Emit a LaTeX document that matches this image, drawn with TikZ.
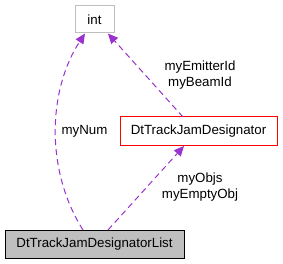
\documentclass[tikz,border=0pt]{standalone}
\usepackage{fontspec}
\setmainfont{Liberation Sans}
\usetikzlibrary{arrows.meta}
\definecolor{edgepurple}{HTML}{9A32CD}
\definecolor{boxgray}{HTML}{BFBFBF}
\begin{document}
\begin{tikzpicture}[x=1pt,y=-1pt,
  every node/.style={font=\fontsize{13.3pt}{16pt}\selectfont, inner sep=0pt},
  classbox/.style={draw, line width=1pt, minimum height=27pt, anchor=center},
  usage/.style={draw=edgepurple, line width=1pt, dash pattern=on 6pt off 4pt,
    -{Triangle[length=10pt,width=9pt,fill=edgepurple]}},
  elabel/.style={align=center}]
\useasboundingbox (0,0) rectangle (283,264);
\node[classbox, draw=boxgray, fill=white, minimum width=39pt] (int) at (94.5,19.5) {int};
\node[classbox, draw=red, fill=white, minimum width=157pt, minimum height=29pt] (dtjd) at (198.5,131.5) {DtTrackJamDesignator};
\node[classbox, draw=black, fill=boxgray, minimum width=179pt, minimum height=28pt] (list) at (94.5,244) {DtTrackJamDesignatorList};
\coordinate (listA) at (83,230);
\coordinate (listB) at (108,230);
\coordinate (intA) at (85,33.5);
\coordinate (intB) at (108,33.5);
\coordinate (dtjdT) at (183,117);
\coordinate (dtjdB) at (184,146);
\draw[usage] (listA) .. controls (45,170) and (48,90) .. (intA);
\draw[usage] (dtjdT) -- (intB);
\draw[usage] (listB) -- (dtjdB);
\node[elabel] (lnum) at (84.5,131) {myNum};
\node[elabel] (lemit) at (200,75) {myEmitterId\\myBeamId};
\node[elabel] (lobjs) at (200,187.5) {myObjs\\myEmptyObj};
\end{tikzpicture}
\end{document}
